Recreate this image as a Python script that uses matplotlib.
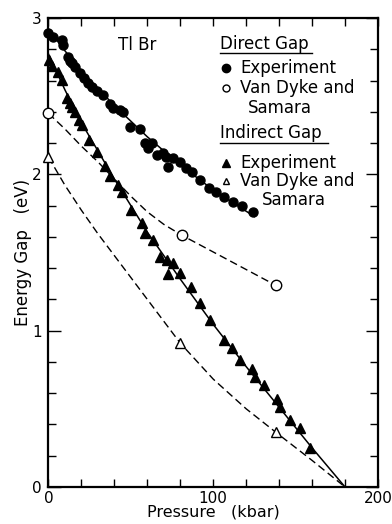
import matplotlib
matplotlib.use("Agg")
import matplotlib.pyplot as plt
from matplotlib.ticker import MultipleLocator, FixedLocator

# ---- data ----
direct_exp_p = [0, 2.7, 8.2, 8.8, 11.8, 13.1, 14.3, 16.1, 19.1, 21.6, 24.0, 26.4, 29.5, 33.1,
                37.4, 39.2, 43.4, 45.3, 49.5, 55.6, 58.6, 62.9, 60.5, 65.9, 69.6, 71.4, 75.6,
                72.6, 79.9, 83.5, 87.2, 92.0, 97.5, 101.8, 106.6, 112.1, 117.6, 124.2]
direct_exp_e = [2.905, 2.879, 2.860, 2.828, 2.751, 2.726, 2.713, 2.687, 2.649, 2.617, 2.585, 2.559,
                2.534, 2.508, 2.450, 2.425, 2.412, 2.399, 2.303, 2.290, 2.201, 2.201, 2.169, 2.124,
                2.137, 2.111, 2.105, 2.047, 2.079, 2.041, 2.015, 1.964, 1.913, 1.887, 1.855, 1.823,
                1.798, 1.759]

indirect_exp_p = [0.3, 2.1, 5.8, 8.2, 11.2, 13.1, 14.3, 16.1, 18.5, 20.4, 24.6, 29.5, 34.3, 37.4,
                  42.2, 44.7, 50.1, 56.8, 58.6, 63.5, 67.7, 72.0, 75.6, 72.6, 79.9, 86.6, 92.0,
                  98.1, 106.6, 111.5, 116.3, 123.6, 125.5, 131.0, 138.8, 140.7, 146.8, 152.9, 159.0]
indirect_exp_e = [2.732, 2.694, 2.655, 2.604, 2.489, 2.457, 2.431, 2.399, 2.348, 2.316, 2.220,
                  2.143, 2.054, 1.990, 1.932, 1.887, 1.772, 1.689, 1.625, 1.580, 1.472, 1.452,
                  1.433, 1.363, 1.369, 1.280, 1.177, 1.068, 0.940, 0.889, 0.813, 0.755, 0.704,
                  0.653, 0.563, 0.512, 0.429, 0.377, 0.250]

direct_fit_p = [0, 10, 20, 40, 60, 80, 100, 125]
direct_fit_e = [2.93, 2.79, 2.66, 2.44, 2.24, 2.06, 1.90, 1.73]

indirect_fit_p = [0, 10, 20, 40, 60, 80, 100, 120, 140, 160, 180]
indirect_fit_e = [2.77, 2.54, 2.33, 1.97, 1.63, 1.33, 1.04, 0.77, 0.51, 0.25, 0.0]

vds_direct_p = [0, 81, 138]
vds_direct_e = [2.39, 1.61, 1.29]
vds_direct_curve_p = [0, 10, 20, 30, 40, 50, 60, 70, 81, 138]
vds_direct_curve_e = [2.39, 2.29, 2.18, 2.08, 1.97, 1.86, 1.76, 1.68, 1.61, 1.29]

vds_indirect_p = [0, 80, 138]
vds_indirect_e = [2.11, 0.92, 0.35]
vds_indirect_curve_p = [0, 10, 20, 30, 40, 50, 60, 70, 80, 100, 120, 138, 160, 180]
vds_indirect_curve_e = [2.11, 1.93, 1.77, 1.62, 1.48, 1.34, 1.20, 1.06, 0.92, 0.69, 0.50, 0.35, 0.17, 0.0]

x_ticks = [0, 100, 200]
x_tick_labels = ['0', '100', '200']
y_ticks = [0, 1, 2, 3]
y_tick_labels = ['0', '1', '2', '3']

fig = plt.figure(figsize=(3.92, 5.24), dpi=100)
ax = fig.add_axes([0.1237, 0.0706, 0.8406, 0.895])

dash = (0, (5.5, 3))
ax.plot(direct_fit_p, direct_fit_e, color='black', lw=1.1, zorder=2)
ax.plot(indirect_fit_p, indirect_fit_e, color='black', lw=1.1, zorder=2)
ax.plot(vds_direct_curve_p, vds_direct_curve_e, color='black', lw=1.0, ls=dash, zorder=2)
ax.plot(vds_indirect_curve_p, vds_indirect_curve_e, color='black', lw=1.0, ls=dash, zorder=2)

ax.plot(direct_exp_p, direct_exp_e, 'o', color='black', ms=6.5, zorder=3, clip_on=False)
ax.plot(indirect_exp_p, indirect_exp_e, '^', color='black', ms=6.5, zorder=3, clip_on=False)
ax.plot(vds_direct_p, vds_direct_e, 'o', mfc='white', mec='black', mew=1.0, ms=7.5, zorder=4, clip_on=False)
ax.plot(vds_indirect_p, vds_indirect_e, '^', mfc='white', mec='black', mew=1.0, ms=7, zorder=4, clip_on=False)

ax.set_xlim(0, 200)
ax.set_ylim(0, 3)
ax.xaxis.set_major_locator(FixedLocator(x_ticks))
ax.xaxis.set_minor_locator(MultipleLocator(20))
ax.yaxis.set_major_locator(FixedLocator(y_ticks))
ax.yaxis.set_minor_locator(MultipleLocator(0.2))
ax.set_xticklabels(x_tick_labels)
ax.set_yticklabels(y_tick_labels)
ax.tick_params(which='both', direction='in', top=True, right=True, width=1.0, labelsize=11)
ax.tick_params(which='major', length=9)
ax.tick_params(which='minor', length=6)
ax.tick_params(axis='x', which='major', length=6, pad=3)
ax.tick_params(axis='y', which='major', pad=5)
for s in ax.spines.values():
    s.set_linewidth(1.6)
ax.set_xlabel('Pressure   (kbar)', fontsize=11.5, labelpad=-1)
ax.set_ylabel('Energy Gap   (eV)', fontsize=12, labelpad=0)

def fx(px):
    return px / 392.0
def fy(py):
    return 1 - py / 524.0

fig.text(fx(137), fy(45), 'Tl Br', fontsize=12, ha='center', va='center')
fig.text(fx(220), fy(44), 'Direct Gap', fontsize=12, ha='left', va='center')
fig.add_artist(plt.Line2D([fx(220), fx(312)], [fy(53), fy(53)], color='black', lw=1.0))
fig.text(fx(240), fy(68), 'Experiment', fontsize=12, ha='left', va='center')
fig.text(fx(240), fy(88), 'Van Dyke and', fontsize=12, ha='left', va='center')
fig.text(fx(248), fy(108), 'Samara', fontsize=12, ha='left', va='center')
fig.text(fx(220), fy(133), 'Indirect Gap', fontsize=12, ha='left', va='center')
fig.add_artist(plt.Line2D([fx(220), fx(328)], [fy(143), fy(143)], color='black', lw=1.0))
fig.text(fx(240), fy(163), 'Experiment', fontsize=12, ha='left', va='center')
fig.text(fx(240), fy(181), 'Van Dyke and', fontsize=12, ha='left', va='center')
fig.text(fx(262), fy(200), 'Samara', fontsize=12, ha='left', va='center')
fig.add_artist(plt.Line2D([fx(226)], [fy(68)], marker='o', color='black', ms=6))
fig.add_artist(plt.Line2D([fx(226)], [fy(88)], marker='o', mfc='white', mec='black', ms=5))
fig.add_artist(plt.Line2D([fx(226)], [fy(163)], marker='^', color='black', ms=6))
fig.add_artist(plt.Line2D([fx(226)], [fy(181)], marker='^', mfc='white', mec='black', ms=5))

fig.savefig('out.png', dpi=100)
